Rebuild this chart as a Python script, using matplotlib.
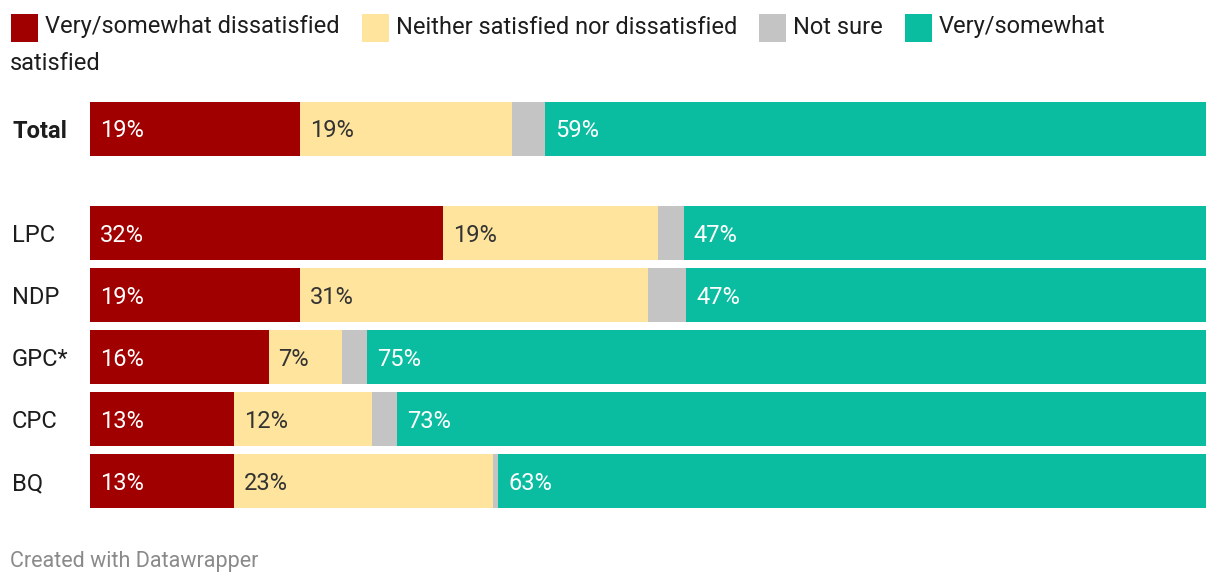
import matplotlib.pyplot as plt
from matplotlib.patches import Rectangle

plt.rcParams['font.family'] = ['Roboto', 'DejaVu Sans']

# data (percent)
groups = ["Total", "LPC", "NDP", "GPC*", "CPC", "BQ"]
dissatisfied = [18.8, 31.6, 18.8, 16.0, 12.9, 12.9]
neither = [19.0, 19.3, 31.2, 6.6, 12.4, 23.2]
not_sure = [3.0, 2.3, 3.4, 2.2, 2.2, 0.5]
satisfied = [59.2, 46.8, 46.6, 75.2, 72.7, 63.4]

series_names = ["Very/somewhat dissatisfied", "Neither satisfied nor dissatisfied",
                "Not sure", "Very/somewhat satisfied"]
colors = ["#a00000", "#fee49c", "#c4c4c4", "#0abda0"]
text_colors = ["white", "#333333", None, "white"]

W, H = 1220, 586
fig = plt.figure(figsize=(W / 100, H / 100), dpi=100)

# axes placed in pixel terms: bars run from x=90 to x=1206, rows from y=90 to y=520
ax = fig.add_axes([90 / W, 1 - 520 / H, 1116 / W, 430 / H])
ax.set_xlim(0, 100)
pitch = 62.0
ax.set_ylim(391 / pitch, -39 / pitch)
ax.axis("off")

rows = [0, 1.685, 2.685, 3.685, 4.685, 5.685]
series = [dissatisfied, neither, not_sure, satisfied]

for i, y in enumerate(rows):
    left = 0
    for s, vals in enumerate(series):
        v = vals[i]
        ax.barh(y, v, left=left, height=54 / pitch, color=colors[s], linewidth=0)
        if text_colors[s] is not None:
            ax.text(left + 0.9, y + 2 / pitch, f"{round(v):d}%", color=text_colors[s],
                    fontsize=17, va="center", ha="left")
        left += v
    fig.text(12 / W, 1 - (131 + y * pitch) / H, groups[i],
             fontsize=17, va="center", ha="left", color="#1d1d1d",
             fontweight="bold" if groups[i] == "Total" else "normal")

# legend, laid out by hand and wrapped like the original
fig.canvas.draw()
renderer = fig.canvas.get_renderer()
x = 11
for s, name in enumerate(series_names):
    label = name
    if s == 3:
        label = "Very/somewhat"
    fig.patches.append(Rectangle((x / W, 1 - 42 / H), 27 / W, 28 / H,
                                 transform=fig.transFigure, color=colors[s], linewidth=0))
    t = fig.text((x + 34) / W, 1 - 27 / H, label, fontsize=17, va="center",
                 ha="left", color="#1d1d1d")
    bb = t.get_window_extent(renderer)
    x = bb.x1 + 22
fig.text(10 / W, 1 - 63 / H, "satisfied", fontsize=17, va="center", ha="left",
         color="#1d1d1d")

fig.text(10 / W, 1 - 561 / H, "Created with Datawrapper", fontsize=15.5,
         va="center", ha="left", color="#8a8a8a")

fig.savefig("out.png", dpi=100)
